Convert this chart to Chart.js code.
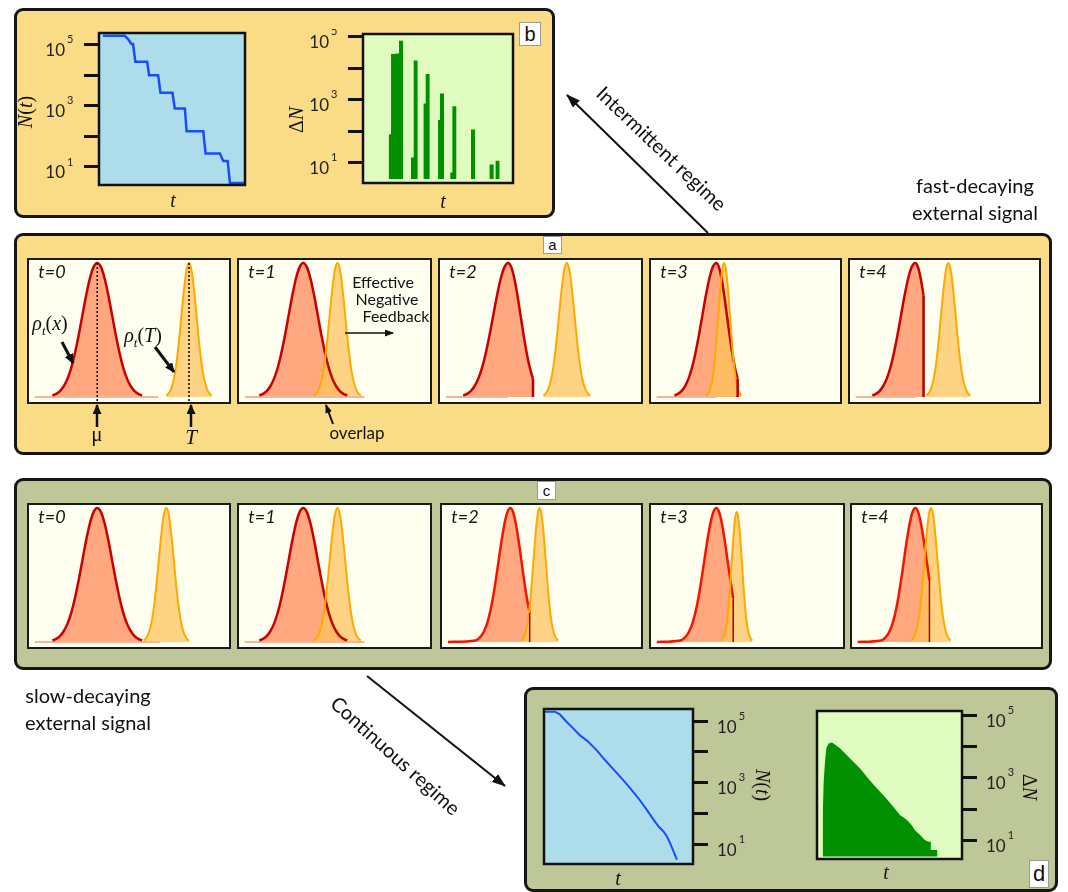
<!DOCTYPE html>
<html>
<head>
<meta charset="utf-8">
<title>Intermittent and continuous regime</title>
<script src="https://cdn.jsdelivr.net/npm/chart.js@4.4.1/dist/chart.umd.min.js"></script>
<style>
  html, body { margin:0; padding:0; background:#fff; }
  #page { position:relative; width:1068px; height:892px; overflow:hidden; font-family:Lato, "Open Sans", sans-serif; color:#111; }
  .box { position:absolute; border:3px solid #151515; border-radius:9px; box-sizing:border-box; }
  .sub { position:absolute; border:2.5px solid #1a1a1a; background:#FFFFF0; box-sizing:border-box; }
  .tag { position:absolute; background:#fff; border:1px solid #9a9a9a; box-sizing:border-box; text-align:center; font-family:"Liberation Sans", Arial, sans-serif; color:#111; }
  .txt { position:absolute; white-space:nowrap; transform:translate(-50%,-50%); line-height:1; z-index:11; }
  canvas { position:absolute; }
  #ov { position:absolute; left:0; top:0; z-index:10; pointer-events:none; }
</style>
</head>
<body>
<div id="page">
  <div class="box" style="left:14px;top:8px;width:541px;height:210px;background:#FADB86"></div>
  <div class="box" style="left:14px;top:233px;width:1038px;height:222px;background:#FADB86"></div>
  <div class="box" style="left:14px;top:478px;width:1038px;height:192px;background:#BDC797"></div>
  <div class="box" style="left:524px;top:687px;width:534px;height:205px;background:#BDC797"></div>

  <div class="tag" style="left:519px;top:22px;width:22px;height:24px;font-size:20px;line-height:22px">b</div>
  <div class="tag" style="left:543px;top:236px;width:19px;height:18px;font-size:15px;line-height:16px">a</div>
  <div class="tag" style="left:537px;top:481px;width:19px;height:19px;font-size:15px;line-height:17px">c</div>
  <div class="tag" style="left:1029px;top:860px;width:20px;height:28px;font-size:22px;line-height:26px">d</div>

  <svg id="ov" width="1068" height="892">
    <defs>
      <marker id="hBig" viewBox="0 0 14 10" refX="13" refY="5" markerWidth="14" markerHeight="10" markerUnits="userSpaceOnUse" orient="auto"><path d="M0,0 L14,5 L0,10 Z" fill="#111"/></marker>
      <marker id="hMid" viewBox="0 0 10 9" refX="9" refY="4.5" markerWidth="10" markerHeight="9" markerUnits="userSpaceOnUse" orient="auto"><path d="M0,0 L10,4.5 L0,9 Z" fill="#111"/></marker>
      <marker id="hSmall" viewBox="0 0 9 7" refX="8" refY="3.5" markerWidth="9" markerHeight="7" markerUnits="userSpaceOnUse" orient="auto"><path d="M0,0 L9,3.5 L0,7 Z" fill="#111"/></marker>
    </defs>
    <line x1="708" y1="233" x2="567" y2="95" stroke="#111" stroke-width="2" marker-end="url(#hBig)"/>
    <line x1="367" y1="676" x2="505" y2="786" stroke="#111" stroke-width="2" marker-end="url(#hBig)"/>
    <line x1="62" y1="342" x2="73" y2="363" stroke="#111" stroke-width="3" marker-end="url(#hMid)"/>
    <line x1="155" y1="347" x2="174" y2="372" stroke="#111" stroke-width="3" marker-end="url(#hMid)"/>
    <line x1="97" y1="427" x2="97" y2="405" stroke="#111" stroke-width="2.5" marker-end="url(#hMid)"/>
    <line x1="191" y1="427" x2="191" y2="405" stroke="#111" stroke-width="2.5" marker-end="url(#hMid)"/>
    <line x1="345" y1="333" x2="393" y2="333" stroke="#111" stroke-width="1.5" marker-end="url(#hSmall)"/>
    <line x1="333" y1="424" x2="326" y2="405" stroke="#111" stroke-width="2" marker-end="url(#hSmall)"/>
  </svg>
</div>

<script>
const page = document.getElementById("page");

// ---- data ----
const tickValues = [10, 100, 1000, 10000, 100000];
const tickExponents = ["1", "", "3", "", "5"];
const stepLabels = ["t=0", "t=1", "t=2", "t=3", "t=4"];

// (b) intermittent regime
const bTimeN = [2.7, 17.6, 19.9, 22.2, 23.3, 24.9, 33.0, 34.3, 40.5, 42.1, 50.3, 51.9, 58.8, 60.0, 71.4, 73.0, 82.8, 85.1, 88.1, 89.7, 99.3];
const bN     = [2.0e5, 2.0e5, 1.55e5, 1.07e5, 1.07e5, 2.8e4, 2.8e4, 1.02e4, 1.02e4, 2700, 2700, 830, 830, 148, 148, 27.5, 27.5, 15.8, 15.8, 3.0, 3.0];
const bTimeDN = [17.1, 18.7, 21.8, 24.0, 26.7, 32.0, 33.8, 36.4, 40.4, 41.8, 44.4, 50.0, 51.3, 54.0, 58.2, 59.6, 62.2, 72.0, 74.7, 84.4, 87.1, 88.4, 91.1];
const bDN     = [80, 2.8e4, 2.95e4, 7.4e4, 0, 14.5, 1.74e4, 0, 760, 6500, 0, 225, 1580, 0, 4.8, 620, 0, 112, 0, 8.7, 0, 11.5, 0];

// (d) continuous regime
const dTimeN = [0, 7.2, 10.6, 15.1, 19.6, 24.0, 29.7, 35.3, 40.9, 46.5, 52.1, 57.8, 63.4, 69.0, 73.5, 76.9, 80.2, 82.5, 84.7, 87.0, 89.2];
const dN     = [2.0e5, 2.0e5, 1.65e5, 9.5e4, 5.8e4, 3.5e4, 2.15e4, 1.15e4, 5500, 2800, 1400, 680, 320, 135, 65, 39, 27, 18.6, 11.2, 6.0, 3.3];
const dTimeDN = [3.9, 3.9, 4.6, 5.5, 6.4, 8.0, 10.3, 12.6, 16.0, 20.6, 25.2, 29.7, 34.3, 38.9, 43.5, 48.1, 52.6, 57.2, 61.8, 65.2, 67.5, 70.9, 74.4, 76.7, 78.5, 78.5, 83.1, 83.1];
const dDN     = [0, 50, 740, 3200, 8700, 1.25e4, 1.35e4, 1.15e4, 8700, 5300, 3200, 1990, 1080, 610, 360, 210, 118, 64, 45, 31, 21, 15, 10.2, 9, 9, 4.9, 4.9, 0];
const dnBase = 3; // bottom of the histogram bars

// bell profile, in widths from the peak
const bellSteps   = [-3, -2.75, -2.5, -2.25, -2, -1.75, -1.5, -1.25, -1, -0.75, -0.5, -0.25, 0, 0.25, 0.5, 0.75, 1, 1.25, 1.5, 1.75, 2, 2.25, 2.5, 2.75, 3];
const bellHeights = [0.011, 0.023, 0.044, 0.080, 0.135, 0.216, 0.325, 0.458, 0.607, 0.755, 0.882, 0.969, 1, 0.969, 0.882, 0.755, 0.607, 0.458, 0.325, 0.216, 0.135, 0.080, 0.044, 0.023, 0.011];

// (a) fast-decaying signal, t=0..4
const aRedPeak   = [34.3, 33.8, 34.1, 34.7, 34.7];
const aRedWidthL = [7.5, 7.7, 7.5, 7.4, 7.6];
const aRedWidthR = [7.5, 7.7, 6.2, 5.7, 5.9];
const aRedCut    = [null, null, 2, 2, 0.75];
const aOrgPeak   = [80.4, 51.8, 63.4, 38.9, 52.3];
const aOrgWidth  = [3.8, 4.1, 3.9, 3.1, 3.9];
const aOrgHeight = [1, 1, 1, 1, 1];
const aPaleEnd   = [65, 66, 34, 35, 35];

// (c) slow-decaying signal, t=0..4
const cRedPeak   = [34.3, 33.8, 34.5, 34.2, 33.7];
const cRedWidthL = [7.5, 7.7, 5.9, 6.3, 6.1];
const cRedWidthR = [7.5, 7.7, 5.6, 5.9, 6.0];
const cRedCut    = [null, null, 1.75, 1.5, 1.25];
const cOrgPeak   = [69.0, 51.8, 49.3, 44.9, 42.0];
const cOrgWidth  = [3.8, 4.1, 3.1, 2.7, 3.5];
const cOrgHeight = [1, 1, 1, 0.97, 1];
const cPaleEnd   = [66, 66, 0, 0, 0];
const cRedLead   = [null, null, 3, 3, 3];

// ---- layout ----
const aBoxes = [[27, 204], [237, 195], [438, 205], [649, 193], [848, 193]];
const cBoxes = [[27, 204], [237, 195], [440, 203], [649, 196], [850, 193]];

function addText(html, cx, cy, css, rot) {
    const d = document.createElement("div");
    d.className = "txt";
    d.innerHTML = html;
    d.style.cssText = `left:${cx}px;top:${cy}px;` + css;
    if (rot) d.style.transform = `translate(-50%,-50%) rotate(${rot}deg)`;
    page.appendChild(d);
}

function addCanvas(left, top, w, h, parent) {
    const c = document.createElement("canvas");
    c.width = w; c.height = h;
    c.style.left = left + "px"; c.style.top = top + "px";
    c.style.width = w + "px"; c.style.height = h + "px";
    (parent || page).appendChild(c);
    return c;
}

// --- log plots (b, d) ---
const logFrame = {
    id: "logFrame",
    beforeDraw(chart, args, o) {
        const a = chart.chartArea, ctx = chart.ctx;
        ctx.save();
        ctx.fillStyle = o.bg;
        ctx.fillRect(a.left, a.top, a.width, a.height);
        ctx.restore();
    },
    afterDraw(chart, args, o) {
        const a = chart.chartArea, ctx = chart.ctx, ys = chart.scales.y;
        ctx.save();
        ctx.strokeStyle = "#111"; ctx.lineWidth = 2.5;
        ctx.strokeRect(a.left, a.top, a.width, a.height);
        ctx.fillStyle = "#222"; ctx.textBaseline = "middle";
        tickValues.forEach((v, i) => {
            if (!tickExponents[i]) return;
            const y = ys.getPixelForValue(v);
            if (o.side === "left") {
                const x = a.left - 34;
                ctx.font = "17px Lato"; ctx.textAlign = "right";
                ctx.fillText("10", x, y + 6);
                ctx.font = "11px Lato"; ctx.textAlign = "left";
                ctx.fillText(tickExponents[i], x + 2, y - 5);
            } else {
                const x = a.right + 24;
                ctx.font = "17px Lato"; ctx.textAlign = "left";
                ctx.fillText("10", x, y + 6);
                const w = ctx.measureText("10").width;
                ctx.font = "11px Lato";
                ctx.fillText(tickExponents[i], x + w + 2, y - 5);
            }
        });
        ctx.restore();
    }
};

function logPlot(canvas, o) {
    return new Chart(canvas, {
        type: "line",
        data: { datasets: [o.dataset] },
        options: {
            responsive: false, animation: false, devicePixelRatio: 1,
            layout: { padding: o.pad },
            plugins: { legend: { display: false }, tooltip: { enabled: false }, logFrame: { bg: o.bg, side: o.side } },
            elements: { point: { radius: 0 } },
            scales: {
                x: { type: "linear", min: 0, max: 100, display: false },
                y: {
                    type: "logarithmic", position: o.side, min: o.yMin, max: o.yMax,
                    afterBuildTicks: s => { s.ticks = tickValues.map(v => ({ value: v })); },
                    afterFit: s => { s.width = 60; },
                    ticks: { display: false },
                    grid: { drawOnChartArea: false, drawTicks: true, tickLength: 15, tickWidth: 3, tickColor: "#111", lineWidth: 3, color: "#111" },
                    border: { display: false }
                }
            }
        },
        plugins: [logFrame]
    });
}

const pts = (xs, ys, floor) => xs.map((x, i) => ({ x: x, y: (floor && ys[i] === 0) ? floor : ys[i] }));

logPlot(addCanvas(39, 28, 211, 162), {
    side: "left", bg: "#ADDCEA", yMin: 2.57, yMax: 2.45e5, pad: { top: 5, right: 5, bottom: 5, left: 0 },
    dataset: { data: pts(bTimeN, bN), borderColor: "#1A4BFF", borderWidth: 2.5, tension: 0, fill: false }
});
logPlot(addCanvas(303, 29, 215, 159), {
    side: "left", bg: "#E0FBC0", yMin: 2.24, yMax: 1.22e5, pad: { top: 5, right: 5, bottom: 5, left: 0 },
    dataset: { data: pts(bTimeDN, bDN, dnBase), stepped: "before", borderWidth: 0, borderColor: "rgba(0,0,0,0)", backgroundColor: "#009000", fill: { value: dnBase } }
});
logPlot(addCanvas(539, 704, 214, 165), {
    side: "right", bg: "#ADDCEA", yMin: 2.40, yMax: 2.45e5, pad: { top: 5, right: 0, bottom: 5, left: 5 },
    dataset: { data: pts(dTimeN, dN), borderColor: "#1A4BFF", borderWidth: 2, tension: 0, fill: false }
});
logPlot(addCanvas(812, 706, 210, 158), {
    side: "right", bg: "#E0FBC0", yMin: 2.51, yMax: 1.38e5, pad: { top: 5, right: 0, bottom: 5, left: 5 },
    dataset: { data: pts(dTimeDN, dDN, dnBase), borderWidth: 0, borderColor: "rgba(0,0,0,0)", backgroundColor: "#009000", tension: 0, fill: { value: dnBase } }
});

// --- distribution panels (a, c) ---
function bellCurve(peak, wl, wr, h, cut) {
    const out = [];
    bellSteps.forEach((k, j) => {
        if (cut != null && k > cut) return;
        out.push({ x: peak + k * (k < 0 ? wl : wr), y: h * bellHeights[j] });
    });
    return out;
}

function vline(x, y1, y2, color, width, dash) {
    return { data: [{ x: x, y: y1 }, { x: x, y: y2 }], borderColor: color, borderWidth: width, borderDash: dash || [],
             fill: false, tension: 0, cubicInterpolationMode: "default" };
}

function distDatasets(p) {
    const ds = [];
    const red = bellCurve(p.redPeak, p.redWL, p.redWR, 1, p.cut);
    if (p.lead != null) red.unshift({ x: p.lead, y: 0 });
    if (p.dotted) {
        ds.push(vline(p.redPeak, 1, -0.05, "#000", 1.5, [2, 2]));
        ds.push(vline(p.orgPeak, 1, -0.05, "#000", 1.5, [2, 2]));
    }
    if (p.cut != null) {
        const last = red[red.length - 1];
        ds.push(vline(last.x, last.y, 0, "#B00000", p.cutW));
    }
    ds.push({ data: bellCurve(p.orgPeak, p.orgW, p.orgW, p.orgH, null), borderColor: "#FFA800", borderWidth: 2,
              fill: "origin", backgroundColor: "rgba(253,196,90,0.72)" });
    ds.push({ data: red, borderColor: p.redColor, borderWidth: 2.5, fill: "origin", backgroundColor: "#FFA880" });
    if (p.paleEnd) ds.push({ data: [{ x: 3, y: 0 }, { x: p.paleEnd, y: 0 }], borderColor: "#F8B49B", borderWidth: 2,
                             fill: false, tension: 0, cubicInterpolationMode: "default" });
    return ds;
}

function buildRow(boxes, top, params) {
    boxes.forEach(([left, w], i) => {
        const div = document.createElement("div");
        div.className = "sub";
        div.style.cssText = `left:${left}px;top:${top}px;width:${w}px;height:146px`;
        page.appendChild(div);
        const cv = addCanvas(0, 0, w - 5, 141, div);
        new Chart(cv, {
            type: "line",
            data: { datasets: distDatasets(params[i]) },
            options: {
                responsive: false, animation: false, devicePixelRatio: 1,
                layout: { padding: 0 },
                plugins: { legend: { display: false }, tooltip: { enabled: false }, filler: { drawTime: "beforeDatasetsDraw" } },
                elements: { point: { radius: 0 }, line: { cubicInterpolationMode: "monotone" } },
                scales: {
                    x: { type: "linear", min: 0, max: 100, display: false },
                    y: { min: -0.03, max: 1.022, display: false }
                }
            }
        });
        addText(stepLabels[i], left + 25, top + 13, "font:italic 18px Lato;color:#151515;");
    });
}

const aParams = aRedPeak.map((_, i) => ({
    redPeak: aRedPeak[i], redWL: aRedWidthL[i], redWR: aRedWidthR[i], cut: aRedCut[i],
    orgPeak: aOrgPeak[i], orgW: aOrgWidth[i], orgH: aOrgHeight[i], paleEnd: aPaleEnd[i],
    lead: null, dotted: i === 0, redColor: "#C80000", cutW: 2.5
}));
const cParams = cRedPeak.map((_, i) => ({
    redPeak: cRedPeak[i], redWL: cRedWidthL[i], redWR: cRedWidthR[i], cut: cRedCut[i],
    orgPeak: cOrgPeak[i], orgW: cOrgWidth[i], orgH: cOrgHeight[i], paleEnd: cPaleEnd[i],
    lead: cRedLead[i], dotted: false, redColor: i < 2 ? "#C80000" : "#F41400", cutW: 1.5
}));

buildRow(aBoxes, 258, aParams);
buildRow(cBoxes, 503, cParams);

// --- annotations ---
const serif = "font-family:'Liberation Serif',serif;font-size:20px;";
addText("<i>ρ</i><sub style='font-size:13px'><i>t</i></sub>(<i>x</i>)", 50, 325, serif);
addText("<i>ρ</i><sub style='font-size:13px'><i>t</i></sub>(<i>T</i>)", 143, 337, serif);
addText("μ", 97, 434, serif + "font-size:21px;");
addText("<i>T</i>", 191, 437, serif + "font-size:21px;");
addText("Effective", 383, 282, "font-size:16px;");
addText("Negative", 387, 299, "font-size:16px;");
addText("Feedback", 396, 316, "font-size:16px;");
addText("overlap", 357, 432, "font-size:17px;");

addText("fast-decaying", 975, 185, "font-size:20px;");
addText("external signal", 975, 212, "font-size:20px;");
addText("slow-decaying", 88, 695, "font-size:20px;");
addText("external signal", 88, 722, "font-size:20px;");
addText("Intermittent regime", 662, 148, "font-size:20px;", 43.5);
addText("Continuous regime", 396, 755, "font-size:20px;", 42);

addText("<i>N</i>(<i>t</i>)", 25, 112, serif, -90);
addText("<i>t</i>", 173, 200, serif);
addText("Δ<i>N</i>", 296, 120, serif, -90);
addText("<i>t</i>", 443, 201, serif);
addText("<i>N</i>(<i>t</i>)", 763, 785, serif, 90);
addText("Δ<i>N</i>", 1030, 787, serif, 90);
addText("<i>t</i>", 618, 878, serif);
addText("<i>t</i>", 886, 872, serif);
</script>
</body>
</html>
